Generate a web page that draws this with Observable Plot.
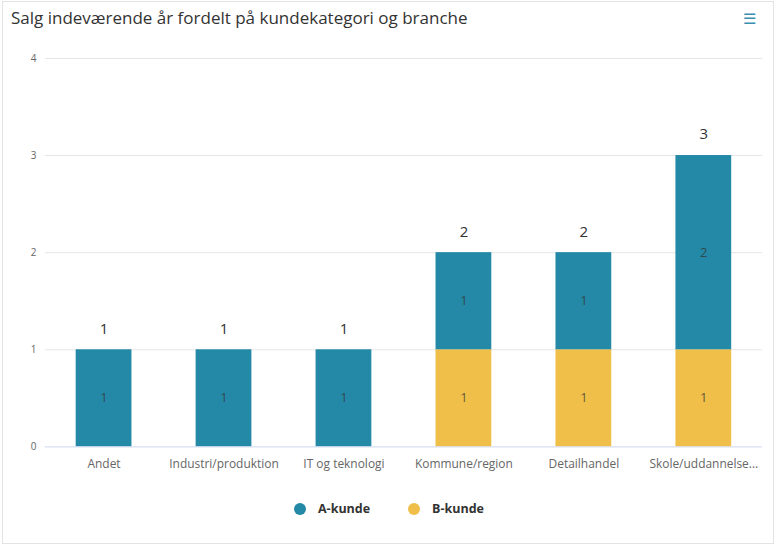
<!DOCTYPE html>
<html><head><meta charset="utf-8">
<script src="https://cdn.jsdelivr.net/npm/d3@7"></script>
<script src="https://cdn.jsdelivr.net/npm/@observablehq/plot@0.6"></script>
<style>
html,body{margin:0;padding:0;background:#fff;font-family:"Open Sans","Noto Sans",sans-serif;}
#card{position:relative;width:772px;height:543px;margin:1px 2px;border:1px solid #e3e3e3;box-sizing:border-box;overflow:hidden;}
#title{position:absolute;left:8px;top:4px;font-size:17px;color:#333;}
#menu{position:absolute;right:17px;top:6px;font-size:15px;color:#3a8fb0;}
#chart{position:absolute;left:-3px;top:35px;}
#legend{position:absolute;top:498px;left:0;width:772px;text-align:center;font-size:12.5px;font-weight:bold;color:#333;}
.it{display:inline-flex;align-items:center;margin:0 19px;}
.dot{width:12px;height:12px;border-radius:50%;display:inline-block;margin-right:12px;}
</style></head>
<body>
<div id="card">
<div id="title">Salg indeværende år fordelt på kundekategori og branche</div>
<div id="menu">☰</div>
<div id="chart"></div>
<div id="legend"></div>
</div>
<script>
const categories = ["Andet","Industri/produktion","IT og teknologi","Kommune/region","Detailhandel","Skole/uddannelse..."];
const aKunde = [1,1,1,1,1,2];
const bKunde = [0,0,0,1,1,1];
const seriesNames = ["A-kunde","B-kunde"];
const seriesColors = ["#2389a6","#efbf4a"];
const yTicks = [0,1,2,3,4];

const rows = [];
categories.forEach((c,i)=>{
  if (bKunde[i] > 0) rows.push({cat:c, series:"B-kunde", value:bKunde[i]});
  if (aKunde[i] > 0) rows.push({cat:c, series:"A-kunde", value:aKunde[i]});
});
const totals = categories.map((c,i)=>({cat:c, total:aKunde[i]+bKunde[i]}));

const chart = Plot.plot({
  width: 776, height: 450,
  marginTop: 21, marginBottom: 39, marginLeft: 45, marginRight: 11,
  style: {fontFamily: '"Open Sans","Noto Sans",sans-serif', background: "transparent"},
  x: {domain: categories, paddingInner: 0.535, paddingOuter: 0.257, round: false, label: null, tickSize: 0},
  y: {domain: [0,4], ticks: yTicks, label: null, tickFormat: d3.format("d")},
  color: {domain: seriesNames, range: seriesColors},
  marks: [
    Plot.gridY(yTicks.filter(d=>d>0), {stroke: "#e6e6e6", strokeOpacity: 1}),
    Plot.axisY({ticks: yTicks, tickSize: 0, tickPadding: 9, fontSize: 10, color: "#666", label: null, tickFormat: d3.format("d")}),
    Plot.axisX({tickSize: 0, tickPadding: 13, fontSize: 12, color: "#666", label: null}),
    Plot.barY(rows, Plot.stackY({x: "cat", y: "value", fill: "series", order: null})),
    Plot.ruleY([0], {stroke: "#ccd6eb"}),
    Plot.text(rows, Plot.stackY({x: "cat", y: "value", text: d=>String(d.value), order: null, fill: "#333", fillOpacity: 0.75, fontSize: 13})),
    Plot.text(totals, {x: "cat", y: "total", text: d=>String(d.total), dy: -21, fill: "#333", fontSize: 15})
  ]
});
document.getElementById("chart").appendChild(chart);

const lg = document.getElementById("legend");
seriesNames.forEach((s,i)=>{
  const it = document.createElement("span"); it.className="it";
  const dot = document.createElement("span"); dot.className="dot"; dot.style.background=seriesColors[i];
  it.appendChild(dot); it.appendChild(document.createTextNode(s));
  lg.appendChild(it);
});
</script>
</body></html>
